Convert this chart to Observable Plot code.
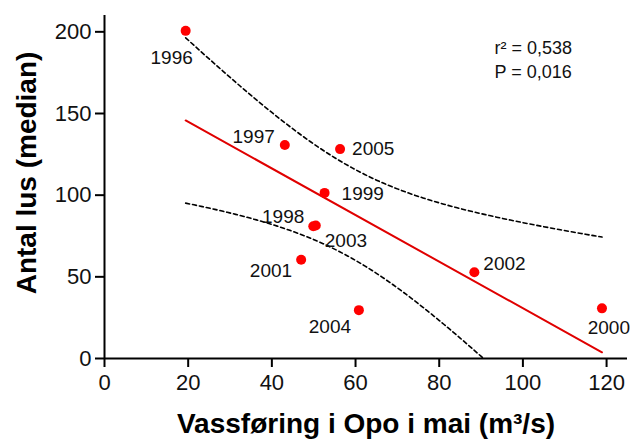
<!DOCTYPE html>
<html>
<head>
<meta charset="utf-8">
<script src="https://cdn.jsdelivr.net/npm/d3@7"></script>
<script src="https://cdn.jsdelivr.net/npm/@observablehq/plot@0.6"></script>
<style>
  html, body { margin: 0; padding: 0; background: #fff; }
  #chart { width: 632px; height: 441px; overflow: hidden; }
</style>
</head>
<body>
<div id="chart"></div>
<script>
// ---- data ----
const years = [1996, 1997, 1998, 1999, 2000, 2001, 2002, 2003, 2004, 2005];
const flow  = [19.4, 43.1, 49.9, 52.6, 118.9, 47.0, 88.4, 50.5, 60.8, 56.3];   // m³/s
const lice  = [200.6, 130.7, 81.0, 101.4, 30.7, 60.5, 52.8, 81.4, 29.6, 128.2]; // median lice
const xTicks = [0, 20, 40, 60, 80, 100, 120];
const yTicks = [0, 50, 100, 150, 200];
const statsText = ["r² = 0,538", "P = 0,016"];
const xTitle = "Vassføring i Opo i mai (m³/s)";
const yTitle = "Antal lus (median)";

// label placement (anchor, dx, dy) per year
const labelPlace = {
  1996: ["middle", -14, 27],
  1997: ["end", -10, -8],
  1998: ["end", -9, -9],
  1999: ["start", 17, 1],
  2000: ["end", 28, 20],
  2001: ["end", -9, 11],
  2002: ["start", 9, -8],
  2003: ["start", 9, 15],
  2004: ["middle", -29, 17],
  2005: ["start", 12, 0]
};

const rows = years.map((yr, i) => ({year: yr, flow: flow[i], lice: lice[i]}));

// ---- linear regression with 95% confidence band for the mean ----
const n = rows.length;
const mx = d3.mean(flow), my = d3.mean(lice);
const sxx = d3.sum(flow, v => (v - mx) ** 2);
const sxy = d3.sum(rows, d => (d.flow - mx) * (d.lice - my));
const slope = sxy / sxx, intercept = my - slope * mx;
const sse = d3.sum(rows, d => (d.lice - (intercept + slope * d.flow)) ** 2);
const s = Math.sqrt(sse / (n - 2));
const t975 = 2.306; // t quantile, df = 8
const [xmin, xmax] = d3.extent(flow);
const fitLine = [xmin, xmax].map(x => ({x, y: intercept + slope * x}));
const band = d3.range(0, 101).map(k => {
  const x = xmin + (xmax - xmin) * k / 100;
  const f = intercept + slope * x;
  const h = t975 * s * Math.sqrt(1 / n + (x - mx) ** 2 / sxx);
  return {x, lo: f - h, hi: f + h};
});

const font = "'Liberation Sans', Arial, Helvetica, sans-serif";

const labelMarks = years.map(yr => {
  const [anchor, dx, dy] = labelPlace[yr];
  return Plot.text(rows.filter(d => d.year === yr), {
    x: "flow", y: "lice", text: d => String(d.year),
    textAnchor: anchor, dx, dy, fontSize: 19, fill: "#111"
  });
});

const hasAxisMarks = typeof Plot.axisX === "function";

const marks = [
  Plot.line(band, {x: "x", y: "hi", stroke: "#000", strokeWidth: 1.6, strokeDasharray: "4,3"}),
  Plot.line(band, {x: "x", y: "lo", stroke: "#000", strokeWidth: 1.6, strokeDasharray: "4,3", clip: true}),
  Plot.line(fitLine, {x: "x", y: "y", stroke: "#e00000", strokeWidth: 2}),
  Plot.dot(rows, {x: "flow", y: "lice", r: 5, fill: "#ff0000", stroke: "none"}),
  ...labelMarks,
  Plot.ruleY([0], {stroke: "#000", strokeWidth: 2}),
  Plot.ruleX([0], {stroke: "#000", strokeWidth: 2}),
  Plot.text([statsText.join("\n")], {
    frameAnchor: "top-left", dx: 390, dy: 22, textAnchor: "start", lineAnchor: "top",
    lineHeight: 1.33, fontSize: 18, fill: "#111"
  }),
  Plot.text([xTitle], {
    frameAnchor: "bottom", dy: 74, lineAnchor: "bottom", textAnchor: "middle",
    fontSize: 28, fontWeight: "bold", fill: "#000"
  }),
  Plot.text([yTitle], {
    frameAnchor: "left", dx: -69, dy: -14, rotate: -90, lineAnchor: "bottom", textAnchor: "middle",
    fontSize: 28, fontWeight: "bold", fill: "#000"
  })
];

if (hasAxisMarks) {
  marks.push(
    Plot.axisX(xTicks, {tickSize: 9, tickPadding: 7, strokeWidth: 2, fontSize: 22, label: null, fill: "#111"}),
    Plot.axisY(yTicks, {tickSize: 9, tickPadding: 4, strokeWidth: 2, fontSize: 22, label: null, fill: "#111"})
  );
}

const chart = Plot.plot({
  width: 632,
  height: 441,
  marginLeft: 104,
  marginRight: 5,
  marginTop: 15,
  marginBottom: 83,
  style: {fontFamily: font, fontSize: "22px", background: "#fff", color: "#000"},
  x: {domain: [0, 125], ticks: xTicks, tickSize: 9, tickPadding: 7, label: null, ...(hasAxisMarks ? {axis: null} : {})},
  y: {domain: [0, 210], ticks: yTicks, tickSize: 9, tickPadding: 4, label: null, ...(hasAxisMarks ? {axis: null} : {})},
  marks
});
document.getElementById("chart").appendChild(chart);
</script>
</body>
</html>
